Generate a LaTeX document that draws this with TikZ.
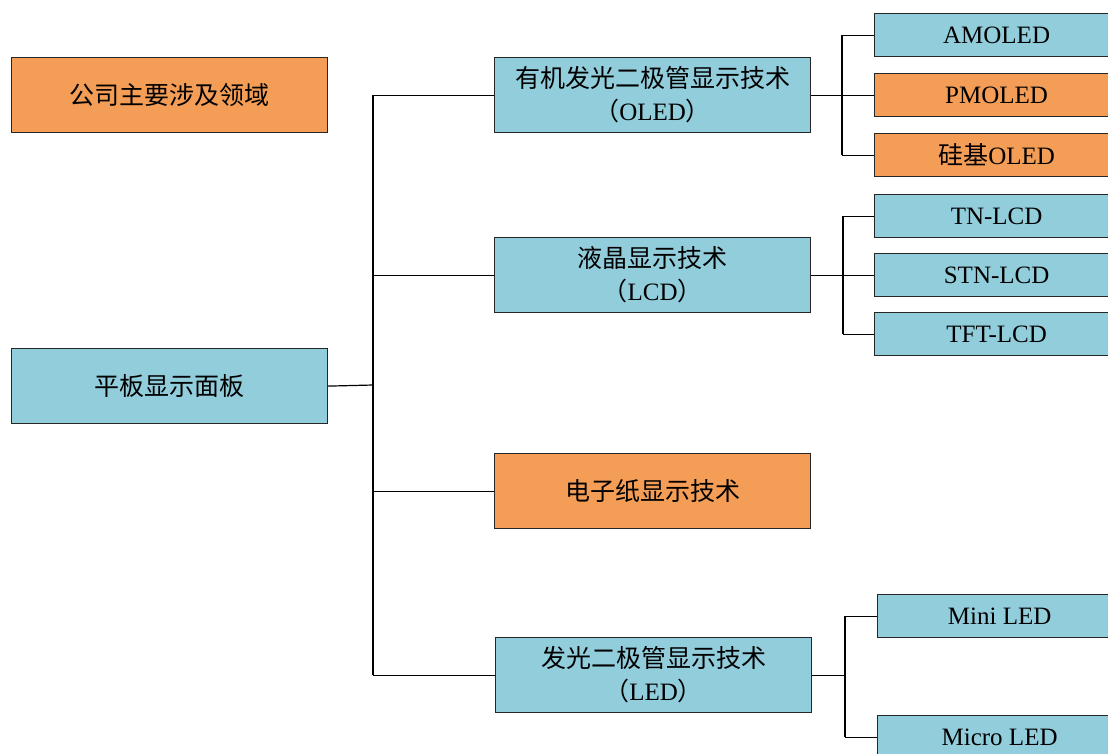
\documentclass[tikz,border=0pt]{standalone}
\usepackage{fontspec}
\setmainfont{Liberation Serif}
\newfontfamily\cjk{Noto Sans CJK SC}
\definecolor{boxblue}{HTML}{92CDDC}
\definecolor{boxorange}{HTML}{F49D56}
\tikzset{
  box/.style={draw=black!85, line width=1.2pt, anchor=north west, inner sep=0pt,
    align=center, font=\fontsize{25}{33}\selectfont},
  bigbox/.style={box, minimum width=316pt, minimum height=75pt},
  smallbox/.style={box, minimum width=244pt, minimum height=43pt},
  blue/.style={fill=boxblue},
  orange/.style={fill=boxorange},
  link/.style={draw=black, line width=1.2pt}
}
\begin{document}
\begin{tikzpicture}[x=1pt, y=-1pt]
\useasboundingbox (0,0) rectangle (1108,753);
\clip (0,0) rectangle (1108,753);
\fill[white] (0,0) rectangle (1108,753);
% left column
\node[bigbox, orange] (legend) at (11,57) {\cjk 公司主要涉及领域};
\node[bigbox, blue] (root) at (11,348) {\cjk 平板显示面板};
% middle column
\node[bigbox, blue] (oled) at (494,57) {\cjk 有机发光二极管显示技术\\{\cjk （}OLED{\cjk ）}};
\node[bigbox, blue] (lcd) at (494,237) {\cjk 液晶显示技术\\{\cjk （}LCD{\cjk ）}};
\node[bigbox, orange] (epaper) at (494,453) {\cjk 电子纸显示技术};
\node[bigbox, blue] (led) at (495,637) {\cjk 发光二极管显示技术\\{\cjk （}LED{\cjk ）}};
% right column
\node[smallbox, blue] (amoled) at (874,13) {AMOLED};
\node[smallbox, orange] (pmoled) at (874,73) {PMOLED};
\node[smallbox, orange] (sioled) at (874,133) {{\cjk 硅基}OLED};
\node[smallbox, blue] (tn) at (874,194) {TN-LCD};
\node[smallbox, blue] (stn) at (874,253) {STN-LCD};
\node[smallbox, blue] (tft) at (874,312) {TFT-LCD};
\node[smallbox, blue] (mini) at (877,594) {Mini LED};
\node[smallbox, blue] (micro) at (877,715) {Micro LED};
% trunk
\coordinate (t) at (373,385);
\draw[link] (root.east) -- (t);
\draw[link] (t |- oled.west) -- (t |- led.west);
\foreach \n in {oled, lcd, epaper, led} \draw[link] (t |- \n.west) -- (\n.west);
% OLED branch
\coordinate (o) at (842,0);
\draw[link] (oled.east) -- (o |- oled.east);
\draw[link] (o |- amoled.west) -- (o |- sioled.west);
\foreach \n in {amoled, pmoled, sioled} \draw[link] (o |- \n.west) -- (\n.west);
% LCD branch
\coordinate (l) at (843,0);
\draw[link] (lcd.east) -- (l |- lcd.east);
\draw[link] (l |- tn.west) -- (l |- tft.west);
\foreach \n in {tn, stn, tft} \draw[link] (l |- \n.west) -- (\n.west);
% LED branch
\coordinate (d) at (845,0);
\draw[link] (led.east) -- (d |- led.east);
\draw[link] (d |- mini.west) -- (d |- micro.west);
\foreach \n in {mini, micro} \draw[link] (d |- \n.west) -- (\n.west);
\end{tikzpicture}
\end{document}
